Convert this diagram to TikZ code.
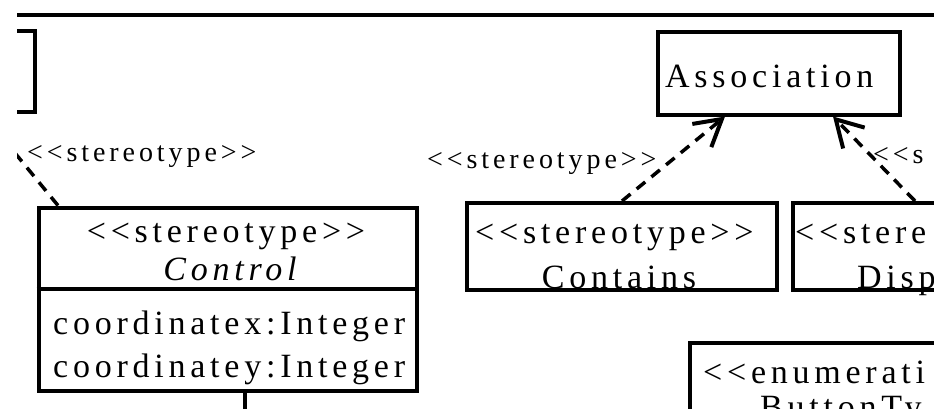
\documentclass[tikz,border=0pt]{standalone}
\usepackage{fontspec}
\setmainfont{Liberation Serif}[LetterSpace=14, Ligatures=TeXOff]
\usetikzlibrary{arrows.meta}
\begin{document}
\begin{tikzpicture}[x=1pt,y=-1pt,
  boxline/.style={line width=4pt},
  umlbox/.style={draw, line width=4pt, inner sep=0pt, anchor=north west},
  big/.style={font=\fontsize{34}{40}\selectfont, inner sep=0pt},
  small/.style={font=\fontsize{28}{34}\selectfont, inner sep=0pt},
  dep/.style={line width=3.5pt, dash pattern=on 11pt off 8pt,
    -{Straight Barb[length=26pt,width=30pt,line width=4pt]}}]
\useasboundingbox (0,0) rectangle (934,408);
\clip (17,0) rectangle (934,408);
% texts
\node[small, anchor=base west] (l1) at (27,161) {<<stereotype>>};
\node[small, anchor=base west] (l2) at (427,168) {<<stereotype>>};
\node[small, anchor=base west] (l3) at (873,163) {<<s};
\node[big, anchor=base west] (tassoc) at (665,87) {Association};
\node[big, anchor=base] (tcst) at (226,242) {<<stereotype>>};
\node[big, anchor=base] (tctl) at (230,280) {\itshape Control};
\node[big, anchor=base west] (ta1) at (53,334) {coordinatex:Integer};
\node[big, anchor=base west] (ta2) at (53,377) {coordinatey:Integer};
\node[big, anchor=base west] (tcs) at (475,243) {<<stereotype>>};
\node[big, anchor=base] (tcn) at (619,288) {Contains};
\node[big, anchor=base west] (tds) at (795,243) {<<stere};
\node[big, anchor=base west] (tdn) at (857,288) {Disp};
\node[big, anchor=base west] (tes) at (703,383) {<<enumerati};
\node[big, anchor=base west] (ten) at (760,418) {ButtonTy};
% boxes
\node[umlbox, minimum width=1050pt, minimum height=500pt] (frame) at (-50,12.5) {};
\node[umlbox, minimum width=132.5pt, minimum height=81pt] (leftbox) at (-100,29) {};
\node[umlbox, minimum width=242pt, minimum height=83pt] (assoc) at (655.5,29.5) {};
\node[umlbox, minimum width=378.5pt, minimum height=183pt] (control) at (36.5,205.5) {};
\node[umlbox, minimum width=310pt, minimum height=86.5pt] (contains) at (464.5,201) {};
\node[umlbox, minimum width=210pt, minimum height=86.5pt] (disp) at (790.5,201) {};
\node[umlbox, minimum width=312pt, minimum height=159pt] (enum) at (688,341) {};
% helper coordinates
\coordinate (div) at (0,289);
\coordinate (x1) at (58,0);
\coordinate (x2) at (-17,0);
\coordinate (x3) at (622,0);
\coordinate (x4) at (725,0);
\coordinate (x5) at (915,0);
\coordinate (x6) at (833,0);
\coordinate (cdown) at (245,420);
% compartment line and outgoing line
\draw[boxline] (control.west |- div) -- (control.east |- div);
\draw[boxline] (control.south -| cdown) -- (cdown);
% dependencies
\draw[dep] (control.north -| x1) -- (leftbox.south -| x2);
\draw[dep] (contains.north -| x3) -- (assoc.south -| x4);
\draw[dep] (disp.north -| x5) -- (assoc.south -| x6);
\end{tikzpicture}
\end{document}
